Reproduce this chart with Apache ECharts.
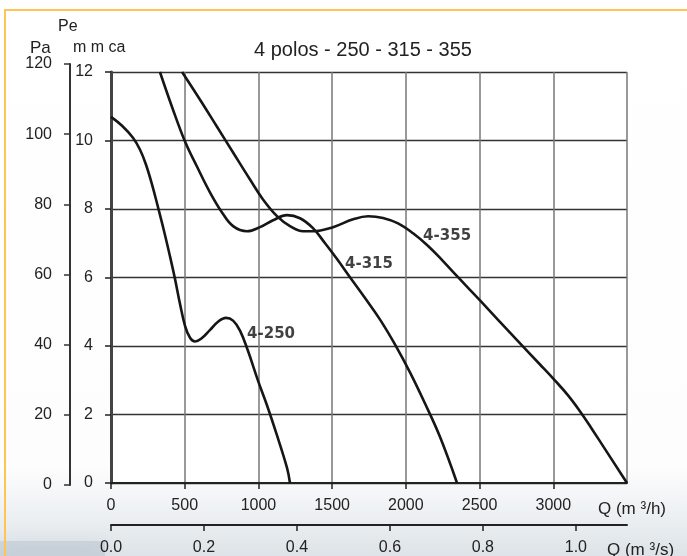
<!DOCTYPE html>
<html><head><meta charset="utf-8">
<script src="https://cdn.jsdelivr.net/npm/echarts@6/dist/echarts.min.js"></script>
<style>html,body{margin:0;padding:0;background:#fff}#c{width:687px;height:556px}</style>
</head><body><div id="c"></div>
<script>
// ---- data ----
const chartTitle = '4 polos - 250 - 315 - 355';
const qTicks = [0, 500, 1000, 1500, 2000, 2500, 3000, 3500];      // m3/h
const qsTicks = [0.0, 0.2, 0.4, 0.6, 0.8, 1.0];                     // m3/s
const paTicks = [0, 20, 40, 60, 80, 100, 120];                      // Pa
const mmTicks = [0, 2, 4, 6, 8, 10, 12];                            // mm ca
const seriesNames = ['4-250', '4-315', '4-355'];

const q250 = [0, 75, 149, 197, 237, 278, 319, 360, 400, 434, 468, 502, 536, 570, 611, 672, 726, 780, 828, 875, 929, 997, 1058, 1126, 1194, 1214];
const p250 = [10.69, 10.43, 10.08, 9.73, 9.30, 8.72, 8.05, 7.35, 6.62, 5.96, 5.23, 4.59, 4.24, 4.13, 4.21, 4.47, 4.71, 4.82, 4.74, 4.45, 3.86, 2.99, 2.27, 1.39, 0.44, 0];

const q315 = [332, 414, 502, 583, 672, 753, 828, 923, 1011, 1099, 1194, 1282, 1370, 1452, 1533, 1621, 1723, 1825, 1927, 2028, 2130, 2232, 2347];
const p315 = [12.0, 10.98, 9.97, 9.24, 8.48, 7.90, 7.50, 7.35, 7.47, 7.67, 7.82, 7.73, 7.44, 7.00, 6.54, 6.01, 5.40, 4.77, 4.04, 3.23, 2.32, 1.34, 0];

const q355 = [482, 604, 719, 828, 943, 1031, 1126, 1214, 1303, 1370, 1506, 1642, 1744, 1845, 1947, 2049, 2151, 2252, 2354, 2503, 2754, 2910, 3012, 3100, 3182, 3263, 3351, 3500];
const p355 = [12.0, 11.19, 10.40, 9.65, 8.86, 8.28, 7.79, 7.50, 7.35, 7.35, 7.47, 7.70, 7.79, 7.74, 7.58, 7.29, 6.92, 6.48, 6.01, 5.33, 4.17, 3.46, 2.99, 2.56, 2.09, 1.57, 0.99, 0];

const labelQ = [923, 1587, 2117];
const labelP = [4.36, 6.39, 7.21];

// ---- chart ----
const NUMF = '"Liberation Sans", Arial, sans-serif';
const SANS = '"Liberation Sans", Arial, sans-serif';
const pair = (q, p) => q.map((v, i) => [v, p[i]]);
const curves = [pair(q250, p250), pair(q315, p315), pair(q355, p355)];

const chart = echarts.init(document.getElementById('c'), null, {renderer: 'canvas'});
const txt = (x, y, text, size, align, font) => ({
  type: 'text', x: x, y: y, silent: true, z: 10,
  style: {text: text, fill: '#222', fontSize: size, fontFamily: font || NUMF, align: align || 'left', verticalAlign: 'middle'}
});
const lbl = {fontSize: 16, fontFamily: NUMF, color: '#222'};

chart.setOption({
  animation: false,
  backgroundColor: new echarts.graphic.LinearGradient(0, 0, 0, 1, [
    {offset: 0, color: '#ffffff'}, {offset: 0.84, color: '#fdfdfd'},
    {offset: 0.92, color: '#eef1f3'}, {offset: 1, color: '#dde3e8'}
  ]),
  graphic: [
    {type: 'rect', shape: {x: 0, y: 541, width: 105, height: 15}, style: {fill: 'rgba(160,174,188,0.3)', shadowBlur: 16, shadowColor: 'rgba(160,174,188,0.5)'}, silent: true, z: -1},
    {type: 'rect', shape: {x: 5, y: 10, width: 700, height: 560}, style: {fill: 'none', stroke: '#FFC453', lineWidth: 2}, silent: true, z: 20},
    txt(363, 50, chartTitle, 20, 'center', SANS),
    txt(58, 27, 'Pe', 16),
    txt(30, 48, 'Pa', 17),
    txt(73, 48, 'm m ca', 16),
    txt(598, 509, 'Q (m ³/h)', 17),
    txt(607, 550, 'Q (m ³/s)', 17)
  ],
  grid: [
    {left: 111, top: 72, width: 516, height: 413, show: true, backgroundColor: '#ffffff', borderWidth: 0},
    {left: 70, top: 64, width: 1, height: 421}
  ],
  xAxis: [
    {
      gridIndex: 0, type: 'value', min: qTicks[0], max: qTicks[qTicks.length - 1], interval: 500,
      axisLine: {show: true, lineStyle: {color: '#222', width: 2}},
      axisTick: {show: true, length: 6, lineStyle: {color: '#222', width: 1.5}},
      axisLabel: Object.assign({showMaxLabel: false, margin: 15, formatter: v => String(v)}, lbl),
      splitLine: {show: true, lineStyle: {color: '#777', width: 1.5}}
    },
    {
      gridIndex: 0, type: 'value', position: 'bottom', offset: 42, min: 0, max: 1.11,
      axisLine: {show: true, onZero: false, lineStyle: {color: '#222', width: 2}},
      axisTick: {show: true, length: 6, customValues: qsTicks, lineStyle: {color: '#222', width: 1.5}},
      axisLabel: Object.assign({customValues: qsTicks, formatter: v => v.toFixed(1), margin: 15}, lbl),
      splitLine: {show: false}
    },
    {gridIndex: 1, type: 'value', show: false, min: 0, max: 1}
  ],
  yAxis: [
    {
      gridIndex: 0, type: 'value', min: mmTicks[0], max: mmTicks[mmTicks.length - 1], interval: 2,
      axisLine: {show: true, lineStyle: {color: '#222', width: 2}},
      axisTick: {show: true, length: 6, lineStyle: {color: '#222', width: 1.5}},
      axisLabel: Object.assign({margin: 18}, lbl),
      splitLine: {show: true, lineStyle: {color: '#333', width: 1.3}}
    },
    {
      gridIndex: 0, type: 'value', position: 'right', min: 0, max: 12,
      axisLine: {show: true, lineStyle: {color: '#444', width: 3}},
      axisTick: {show: false}, axisLabel: {show: false}, splitLine: {show: false}
    },
    {
      gridIndex: 1, type: 'value', min: paTicks[0], max: paTicks[paTicks.length - 1], interval: 20,
      axisLine: {show: true, lineStyle: {color: '#333', width: 2}},
      axisTick: {show: true, length: 6, lineStyle: {color: '#333', width: 1.5}},
      axisLabel: Object.assign({margin: 18}, lbl),
      splitLine: {show: false}
    }
  ],
  series: curves.map((d, i) => ({
    name: seriesNames[i], type: 'line', xAxisIndex: 0, yAxisIndex: 0,
    data: d, smooth: 0.4, symbol: 'none', silent: true, z: 5,
    lineStyle: {color: '#161616', width: 2.6}
  })).concat([{
    type: 'scatter', xAxisIndex: 0, yAxisIndex: 0, silent: true, z: 6,
    symbolSize: 0.01, itemStyle: {color: 'rgba(0,0,0,0)'},
    data: seriesNames.map((n, i) => ({name: n, value: [labelQ[i], labelP[i]]})),
    label: {show: true, position: 'right', distance: 0, formatter: '{b}',
      fontFamily: '"DejaVu Sans", sans-serif', fontWeight: 'bold', fontSize: 15, color: '#111'}
  }])
});
</script>
</body></html>
